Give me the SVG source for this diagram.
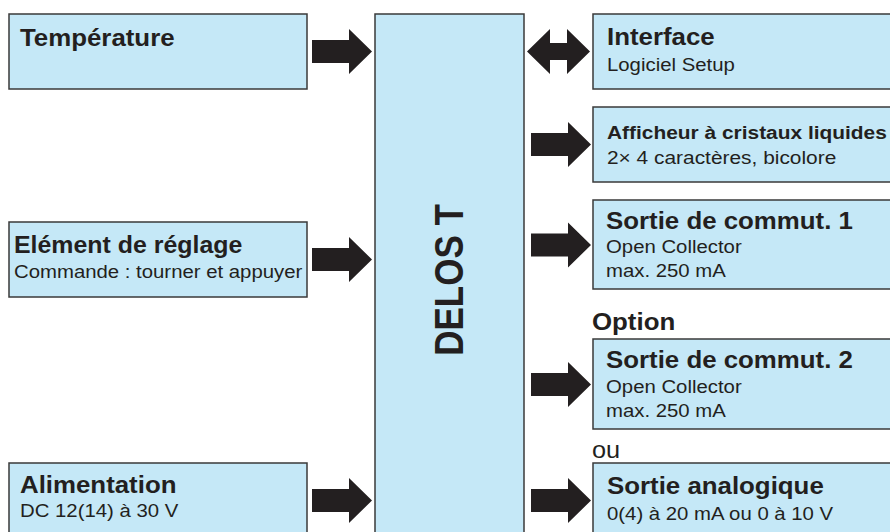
<svg xmlns="http://www.w3.org/2000/svg" width="890" height="532" viewBox="0 0 890 532">
<defs>
<style>
.box{fill:#c5e8f7;stroke:#3a3a3a;stroke-width:1.5}
.h{font-family:"Liberation Sans",Arial,sans-serif;font-weight:bold;font-size:23.5px;fill:#231f20}
.hs{font-family:"Liberation Sans",Arial,sans-serif;font-weight:bold;font-size:19px;fill:#231f20}
.s{font-family:"Liberation Sans",Arial,sans-serif;font-size:18.5px;fill:#231f20}
.arr{fill:#231f20}
</style>
<path id="ar" d="M-60,-11.5 H-23 V-22.5 L0,0 L-23,22.5 V11.5 H-60 Z"/>
</defs>
<rect width="890" height="532" fill="#ffffff"/>

<g id="temperature">
<rect class="box" x="9" y="14" width="298" height="75"/>
<text class="h" transform="translate(20,46) scale(1.1,1)">Température</text>
</g>

<g id="element-reglage">
<rect class="box" x="9" y="222" width="298" height="75"/>
<text class="h" transform="translate(14,253) scale(1.06,1)">Elément de réglage</text>
<text class="s" transform="translate(14,278) scale(1.1,1)">Commande : tourner et appuyer</text>
</g>

<g id="alimentation">
<rect class="box" x="9" y="463" width="298" height="80"/>
<text class="h" transform="translate(20,493) scale(1.1,1)">Alimentation</text>
<text class="s" transform="translate(20,517) scale(1.1,1)">DC 12(14) à 30 V</text>
</g>

<g id="delos-t">
<rect class="box" x="375" y="14" width="149" height="530"/>
<text class="h" style="font-size:35px" text-anchor="middle" transform="translate(463,280) scale(1.14,1) rotate(-90)">DELOS T</text>
</g>

<g id="interface">
<rect class="box" x="593" y="14" width="310" height="75"/>
<text class="h" transform="translate(607,45) scale(1.1,1)">Interface</text>
<text class="s" transform="translate(607,71) scale(1.1,1)">Logiciel Setup</text>
</g>

<g id="afficheur">
<rect class="box" x="593" y="107" width="310" height="75"/>
<text class="hs" transform="translate(607,139) scale(1.1,1)">Afficheur à cristaux liquides</text>
<text class="s" transform="translate(607,164) scale(1.13,1)">2× 4 caractères, bicolore</text>
</g>

<g id="sortie-commut-1">
<rect class="box" x="593" y="200" width="310" height="89"/>
<text class="h" transform="translate(606,229) scale(1.1,1)">Sortie de commut. 1</text>
<text class="s" transform="translate(606,253) scale(1.1,1)">Open Collector</text>
<text class="s" transform="translate(606,277) scale(1.1,1)">max. 250 mA</text>
</g>

<g id="option">
<text class="h" transform="translate(592,330) scale(1.1,1)">Option</text>
</g>

<g id="sortie-commut-2">
<rect class="box" x="593" y="339" width="310" height="90"/>
<text class="h" transform="translate(606,368) scale(1.1,1)">Sortie de commut. 2</text>
<text class="s" transform="translate(606,393) scale(1.1,1)">Open Collector</text>
<text class="s" transform="translate(606,417) scale(1.1,1)">max. 250 mA</text>
</g>

<g id="ou">
<text class="s" style="font-size:23px" transform="translate(592,458) scale(1.1,1)">ou</text>
</g>

<g id="sortie-analogique">
<rect class="box" x="593" y="463" width="310" height="80"/>
<text class="h" transform="translate(607,494) scale(1.1,1)">Sortie analogique</text>
<text class="s" transform="translate(607,520) scale(1.1,1)">0(4) à 20 mA ou 0 à 10 V</text>
</g>

<g id="connectors">
<use class="arr" href="#ar" x="372" y="51.5"/>
<use class="arr" href="#ar" x="372" y="259.5"/>
<use class="arr" href="#ar" x="372" y="500.5"/>
<path class="arr" d="M527,51.5 L550,29 V43 H567 V29 L590,51.5 L567,74 V60 H550 V74 Z"/>
<use class="arr" href="#ar" x="591" y="144.5"/>
<use class="arr" href="#ar" x="591" y="245"/>
<use class="arr" href="#ar" x="591" y="384.5"/>
<use class="arr" href="#ar" x="591" y="500.5"/>
</g>
</svg>
